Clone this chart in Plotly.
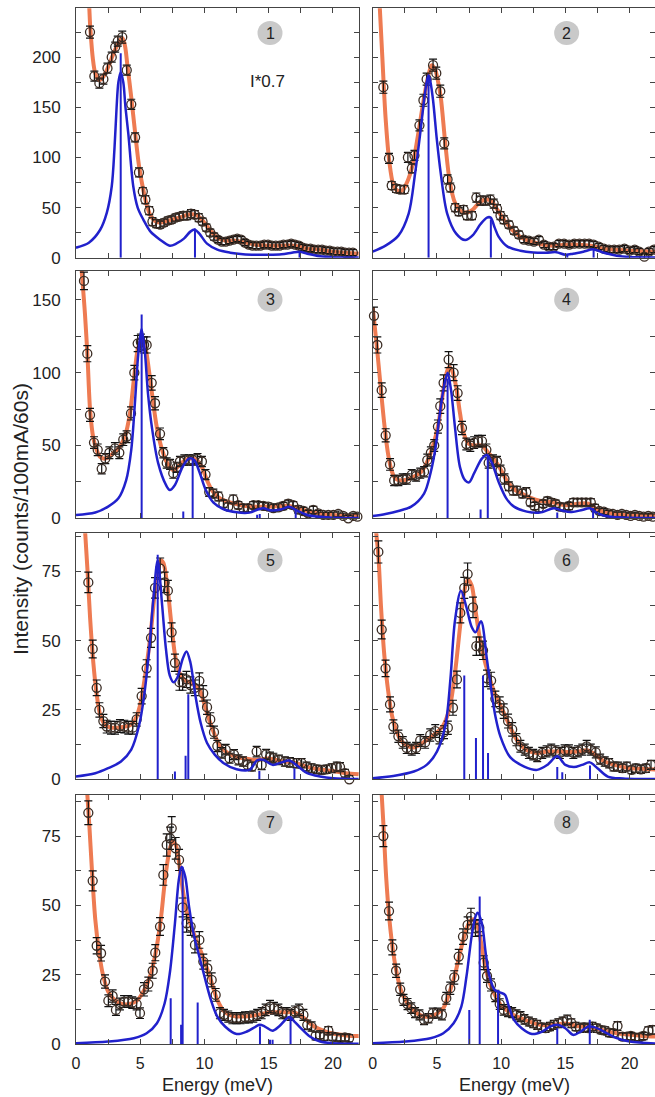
import plotly.graph_objects as go
from plotly.subplots import make_subplots

# ---------------- Panel 1 ----------------
x1 = [1.09,1.43,1.82,2.13,2.45,2.78,3.05,3.25,3.6,3.95,4.3,4.6,4.9,5.2,5.4,5.7,5.95,6.25,6.55,6.85,
      7.15,7.45,7.75,8.05,8.35,8.65,8.95,9.25,9.55,9.85,10.15,10.45,10.75,11.05,11.35,11.65,11.95,12.25,12.55,12.85,
      13.15,13.45,13.75,14.05,14.35,14.65,14.95,15.25,15.55,15.85,16.15,16.45,16.75,17.05,17.35,17.65,17.95,18.25,18.55,18.85,
      19.15,19.45,19.75,20.05,20.35,20.65,20.95,21.25,21.55]
y1 = [225,181,174,178,189,200,210,216,220,187,153,120,85,66,58,47,36,34,33,35,
      37,38,40,41,42,42,44,43,40,36,30,25,21,18,16,16,17,18,19,18,
      15,13,12,12,12,13,13,12,12,12,13,13,14,13,12,10,9,9,8,8,
      8,7,7,6,6,6,5,5,5]
e1 = [6,5,5,5,5,5,5,5,6,5,5,4.5,4.5,4,4,4,4,4,3.5,3.5,
      3.5,3.5,3.5,3.5,4,4,4,4,4,3.5,3.5,3.5,3.5,3,3,3,3,3,3,3,
      3,3,3,3,3,3,3,3,3,3,3,3,3,3,3,3,3,3,3,3,
      3,3,3,3,3,3,3,3,3]
fx1 = [0.9,1.0,1.1,1.3,1.5,1.8,2.1,2.5,2.9,3.3,3.6,3.8,4.0,4.3,4.6,4.9,5.2,5.5,5.8,6.2,6.6,
       7.2,8.0,8.8,9.3,9.8,10.4,11.0,11.6,12.4,13.2,14,15,16,17,18,19,20,21,22]
fy1 = [262,255,232,200,184,177,180,190,203,214,219,212,192,160,125,92,70,53,42,36,35,
       37,40,43,43,38,28,20,17,17,15,13,12,12,12,9,8,6,5,4]
bx1 = [0,1.0,1.87,2.4,2.78,3.0,3.16,3.3,3.48,3.68,3.85,4.07,4.46,4.8,5.24,5.8,6.54,7.3,
       7.8,8.4,8.9,9.25,9.6,10.2,11,12,13,14,15,16,16.8,17.4,18,19,20,22]
by1 = [10,15,27.6,45,71,110,150,175,185,175,150,124,71,50,38,26,18,12,
       14,19,26,28,24,14,8,5,3.5,3,3,3.5,5,6,4,1.5,0.5,0.2]
sx1 = [3.48,9.26,17.4]
sh1 = [204,29,5]

# ---------------- Panel 2 ----------------
x2 = [0.83,1.27,1.48,1.82,2.14,2.47,2.74,3.05,3.25,3.64,3.95,4.2,4.7,4.95,5.26,5.57,5.83,6.04,6.43,6.7,
      7.08,7.34,7.73,8.07,8.38,8.77,9.16,9.42,9.68,9.95,10.2,10.6,11.0,11.38,11.77,12.16,12.55,12.94,13.33,13.7,
      14.1,14.5,14.9,15.3,15.7,16.1,16.5,16.85,17.2,17.6,18.0,18.4,18.8,19.2,19.6,20.0,20.4,20.75,21.15,21.5,21.9]
y2 = [170,99,72,69,68,68,100,89,102,132,157,178,192,184,166,114,78,70,50,46,
      48,42,42,60,57,57,58,54,49,42,38,33,27,23,18,17,16,18,13,11,
      11,14,14,13,14,14,14,14,13,11,9,8,8,8,9,7,8,6,1,6,8]
e2 = [6,5,4,4,4,4,5,4.5,5,5.5,6,6,6,6,6,5.5,4.5,4.5,4,4,
      4,4,4,4.5,4.5,4.5,4.5,4.5,4,4,4,3.5,3.5,3.5,3,3,3,3,3,3,
      3,3,3,3,3,3,3,3,3,3,3,3,3,3,3,3,3,3,3,3,3]
fx2 = [0.55,0.75,1.0,1.3,1.6,1.9,2.3,2.7,3.1,3.5,3.9,4.3,4.6,4.85,5.05,5.3,5.65,6.0,6.4,6.8,
       7.3,7.8,8.3,8.8,9.2,9.6,10.0,10.5,11.0,11.6,12.4,13.2,14,15,16,17,18,19,20,21,22]
fy2 = [250,200,140,95,73,67,67,76,92,120,152,180,192,188,178,160,114,76,55,47,
       45,48,55,58,57,50,42,33,26,20,16,13,12,13,13,12,9,8,7,6.5,6]
bx2 = [0,1.0,2.0,2.8,3.3,3.7,4.0,4.2,4.35,4.5,4.7,5.0,5.3,5.8,6.5,7.2,7.8,8.4,8.9,9.18,
       9.5,9.8,10.5,11.5,12.5,13.5,14.3,15.0,15.6,16.4,17.2,18,19,20,22]
by2 = [6,12,22,44,84,124,157,175,182,175,157,117,84,44,24,17.6,22.6,33.6,40,40,
       30,21,11,7,5.3,5,5.5,3,4,6,8.3,5,2,0.7,0.3]
sx2 = [4.35,9.2,15.15,17.2]
sh2 = [181,38,3,8]

# ---------------- Panel 3 ----------------
x3 = [0.62,0.88,1.09,1.40,1.69,2.0,2.28,2.6,3.03,3.37,3.68,3.94,4.28,4.54,4.8,5.05,5.3,5.5,5.89,6.15,
      6.54,6.8,7.06,7.32,7.57,7.83,8.09,8.43,8.78,9.12,9.46,9.8,10.08,10.37,10.69,11.08,11.47,11.85,12.24,12.63,
      13.02,13.41,13.8,14.19,14.58,14.97,15.36,15.75,16.13,16.52,16.91,17.3,17.7,18.08,18.47,18.86,19.25,19.64,20.03,20.41,
      20.8,21.19,21.58,21.9]
y3 = [163,113,71,52,47,34,41,45,48,45,54,56,72,100,120,121,119,119,93,79,
      58,45,38,37,31,35,39,40,40,40,41,39,30,18,17,15,10,8,13,9,
      7,7,9,9,8.5,8,7,7.5,8.5,10,9,6,5,3.4,5.7,3.4,2.3,2.3,2.3,3,
      1.6,0,1.6,1.1]
e3 = [6,5.5,4.5,4,4,3.5,3.5,4,4,4,4,4,4.5,5,5.5,5.5,5.5,5.5,5,4.5,
      4,3.5,3.5,3.5,3.5,3.5,3.5,3.5,3.5,3.5,3.5,3.5,3.5,3,3,3,2.5,2.5,3,2.5,
      2.5,2.5,2.5,2.5,2.5,2.5,2.5,2.5,2.5,2.5,2.5,2.5,2.5,2,2.5,2,2,2,2,2,
      2,2,2,2]
fx3 = [0.44,0.7,0.9,1.1,1.35,1.6,1.9,2.3,2.8,3.3,3.8,4.2,4.5,4.8,5.0,5.2,5.4,5.7,6.0,6.3,
       6.7,7.1,7.6,8.0,8.5,9.0,9.4,9.8,10.2,10.6,11.0,11.6,12.4,13.2,14.0,15,16,16.6,17.2,18,
       19,20,21,22]
fy3 = [170,140,110,74,55,47,42,41,44,48,56,72,95,116,121,123,118,100,80,62,
       47,38,33,36,40,41,40,35,26,19,15,12,10,8.5,8,8,8.5,8.5,7,5,
       3,2.3,1.8,1.5]
bx3 = [0,1.5,2.5,3.3,3.9,4.3,4.6,4.85,5.1,5.35,5.6,5.9,6.4,7.0,7.3,7.7,8.3,8.8,9.2,9.6,
       10.1,10.7,11.5,12.5,13.5,14.2,14.6,15.2,16.0,16.6,17.2,18,19,20,22]
by3 = [2.3,4,8,13.7,26,47,81,113,130,115,86,63,37.7,22.9,19.4,22.9,35.4,41,40,32,
       19.4,10.7,6.2,4.1,3.9,6.2,6.9,5.3,6.2,8,5.3,2.3,1,0.4,0.2]
sx3 = [5.11,8.35,9.08,14.1,14.3,17.1]
sh3 = [140,4.6,40.5,2.5,3,5.7]

# ---------------- Panel 4 ----------------
x4 = [0.1,0.36,0.7,1.01,1.35,1.67,2.0,2.34,2.65,3.04,3.38,3.7,4.0,4.25,4.53,4.79,5.08,5.26,5.52,5.91,
      6.3,6.61,6.95,7.29,7.6,7.9,8.2,8.51,8.85,9.03,9.37,9.68,9.95,10.26,10.6,10.93,11.25,11.65,11.96,12.29,
      12.6,12.94,13.28,13.6,13.9,14.24,14.56,14.9,15.28,15.62,15.94,16.28,16.61,16.98,17.3,17.65,18.0,18.36,18.7,19.06,
      19.4,19.74,20.08,20.42,20.75,21.09,21.46,21.8]
y4 = [139,119,88,57,37,26,26,27,27,30,29,31,32,40,45,50,63,77,93,109,
      100,86,62,51,50,52,53,53,47,38,40,39,33,27,22,19,19,17,18,11,
      8.5,7,10,12,11,10,8,7.5,8.5,11,11,11,11,11,7,5,4.6,3.4,3,2.3,
      3,2.3,1.6,2.3,1.6,1.1,1.6,1.1]
e4 = [6,5.5,5,4.5,4,3.5,3.5,3.5,3.5,3.5,3.5,3.5,3.5,4,4,4,4.5,5,5.5,5.5,
      5.5,5,4.5,4,4,4,4,4,4,3.5,3.5,3.5,3.5,3.5,3,3,3,3,3,2.5,
      2.5,2.5,2.5,2.5,2.5,2.5,2.5,2.5,2.5,2.5,2.5,2.5,2.5,2.5,2.5,2,2,2,2,2,
      2,2,2,2,2,2,2,2]
fx4 = [0.0,0.3,0.6,0.9,1.2,1.5,1.8,2.3,2.8,3.3,3.8,4.3,4.7,5.1,5.4,5.7,5.95,6.2,6.5,6.8,
       7.1,7.5,8.0,8.5,9.0,9.5,10.0,10.5,11.0,11.6,12.3,13,14,15,16,16.8,17.5,18.5,19.5,20.5,22]
fy4 = [145,120,92,65,44,32,27,26,27,29,32,40,50,64,82,98,104,101,90,72,
       58,51,50,50,45,40,33,25,20,17,14,12,11,9,10,10,6,3.5,2.5,2,1.5]
bx4 = [0,1,2,3,4,4.5,4.9,5.2,5.5,5.83,6.1,6.4,6.8,7.2,7.5,7.9,8.5,8.9,9.3,9.8,
       10.4,11,12,13,14.1,14.6,15.5,16.3,16.9,17.5,18.5,20,22]
by4 = [1.6,3,5,8,17,31,49,70,88,100,88,63,35,26,24.7,31,41,43.4,37.7,25,
       13.7,8,4.6,3.9,6.9,5.7,4.3,5.7,6.9,3.4,1,0.3,0.2]
sx4 = [5.83,8.4,8.96,14.37,17.16]
sh4 = [96,6,43,4,7]

# ---------------- Panel 5 ----------------
x5 = [0.96,1.3,1.61,1.82,2.13,2.39,2.72,3.04,3.42,3.76,4.07,4.41,4.72,5.11,5.5,5.84,6.15,6.55,6.9,7.15,
      7.44,7.7,8.05,8.3,8.6,8.9,9.25,9.6,9.9,10.2,10.45,10.74,11.0,11.35,11.65,11.95,12.3,12.65,13.0,13.35,
      13.7,14.06,14.45,14.8,15.1,15.36,15.8,16.26,16.65,17.17,17.56,17.95,18.34,18.73,19.12,19.5,19.9,20.3,20.55,20.93,
      21.27]
y5 = [71,47,33,25,21,19,18.6,18.6,19.2,19,18.6,18.6,21.6,30,40,51,69,76,71,68,
      53,42,35,35,36,34,33,35.5,31,26,21.6,17,12,9.5,10.7,7.6,8.9,7,6.4,5.2,
      4.6,10,5.2,9,8,7.6,7,6.4,6.1,5.8,5.8,4.6,4,3.6,3.4,3.6,4,4.6,4.4,2.2,
      0]
e5 = [3.7,3.2,2.8,2.6,2.4,2.3,2.3,2.3,2.3,2.3,2.3,2.3,2.4,2.8,3.1,3.4,3.7,3.8,3.7,3.7,
      3.4,3.1,2.9,2.9,2.9,2.9,2.8,2.9,2.8,2.6,2.4,2.2,2,1.9,1.9,1.8,1.8,1.8,1.7,1.7,
      1.6,1.9,1.7,1.8,1.8,1.8,1.7,1.7,1.7,1.7,1.7,1.6,1.6,1.5,1.5,1.5,1.6,1.6,1.6,1.4,
      1.3]
fx5 = [0.7,0.9,1.1,1.35,1.6,1.9,2.3,2.8,3.5,4.2,4.6,5.0,5.4,5.8,6.1,6.4,6.6,6.8,7.1,7.4,
       7.7,8.0,8.4,8.8,9.2,9.6,10.0,10.4,10.8,11.2,11.8,12.5,13.2,14,15,16,17,18,19,20,21,22]
fy5 = [90,75,58,42,31,23,19.5,18.6,18.8,19.5,21.5,27,38,52,66,76,79,78,70,57,
       45,39,36,35,34,32.5,27,21,16,12,9.5,8,7.5,7,7.5,6.5,6,4.5,3.5,3,2.2,1.8]
bx5 = [0,1.5,2.5,3.5,4.3,4.9,5.3,5.7,6.0,6.36,6.7,7.0,7.3,7.6,7.9,8.3,8.6,8.9,9.3,9.7,
       10.2,10.8,11.5,12.5,13.5,14.1,14.6,15.3,16.0,16.6,17.3,18,19,20,22]
by5 = [1,2.2,4,6.4,10.7,19.2,30,47,64,79,63,47,37.4,35,36.8,43.4,46.1,42.2,30,20.4,
       13.1,8.9,5.8,3.6,3.4,6.8,7,5.2,6.1,6.8,4.6,2.2,1,0.4,0.1]
sx5 = [6.36,7.7,8.53,8.74,14.27,17.0]
sh5 = [81,2.8,8.5,30.7,3,4]

# ---------------- Panel 6 ----------------
x6 = [0.44,0.7,1.0,1.35,1.61,2.0,2.34,2.65,3.04,3.38,3.7,4.08,4.48,4.87,5.2,5.55,5.85,6.25,6.56,6.82,
      7.13,7.39,7.81,8.07,8.33,8.59,8.9,9.22,9.55,9.89,10.2,10.54,10.86,11.19,11.5,11.84,12.16,12.5,12.81,13.2,
      13.54,13.9,14.24,14.58,14.94,15.28,15.62,15.98,16.32,16.66,16.98,17.37,17.71,18.07,18.41,18.75,19.11,19.45,19.79,20.15,
      20.49,20.88,21.27,21.67]
y6 = [82,54,40,27,19,15.5,13.3,11.3,10.7,11.3,14,13.3,16,17.4,15,17,18.6,25.8,36,60,
      69,74,62,48,48,46.5,36.4,35.6,29,27,24.6,21,18,14.3,11.9,10.7,9.5,8.9,8.3,9.5,
      10.1,10.7,10.1,9.5,10.4,10.4,9.5,10.1,10.7,11.9,10.7,9.7,7.3,6.4,5.8,4.6,4.6,4,4.6,3.4,
      4,3.6,4,5.2]
e6 = [4,3.4,3,2.7,2.4,2.2,2.1,2,2,2,2.1,2.1,2.2,2.3,2.2,2.3,2.4,2.7,3,3.6,
      3.8,4,3.7,3.3,3.3,3.3,3,3,2.8,2.7,2.6,2.5,2.4,2.2,2.1,2,2,1.9,1.9,2,
      2,2,2,2,2,2,2,2,2,2.1,2,2,1.8,1.7,1.7,1.6,1.6,1.5,1.6,1.4,
      1.5,1.5,1.5,1.6]
fx6 = [0.25,0.45,0.65,0.9,1.2,1.5,1.8,2.2,2.7,3.2,3.7,4.3,4.9,5.5,6.0,6.4,6.8,7.1,7.4,7.7,
       8.0,8.3,8.6,9.0,9.5,10.0,10.5,11.0,11.5,12.0,12.8,13.6,14.5,15.3,16,16.7,17.3,18,19,20,21,22]
fy6 = [90,80,62,45,32,23,18,14,12,11.5,12.5,14.5,16.5,19.5,26,38,55,67,72,70,
       61,52,45,38,31,26,21,16,12.5,10.5,9.5,10,10,9.8,10,10.5,9,6.5,5,4,3.8,3.5]
bx6 = [0,1.6,3.2,4.2,5.0,5.65,6.05,6.4,6.87,7.3,7.7,8.0,8.43,8.9,9.22,9.55,9.94,10.7,11.8,12.8,
       13.6,14.37,15.0,15.67,16.3,16.9,17.5,18.3,19.5,22]
by6 = [0.4,1.2,2.8,5.2,10,19.2,36,57,68,62,55,53,57,43,32.5,22.8,15.5,8,4.6,3.4,
       5.2,8.3,5.2,4.4,5.2,6.1,4,1,0.3,0.1]
sx6 = [7.13,8.04,8.59,8.98,14.37,14.76,16.92]
sh6 = [37.4,14.9,37.4,9.5,4.4,2.5,5]

# ---------------- Panel 7 ----------------
x7 = [0.96,1.3,1.61,1.95,2.26,2.52,2.85,3.11,3.42,3.74,4.07,4.38,4.72,4.98,5.29,5.63,5.97,6.17,6.54,6.8,
      7.06,7.32,7.45,7.76,8.02,8.3,8.61,8.92,9.26,9.6,9.91,10.22,10.56,10.87,11.2,11.52,11.85,12.17,12.5,12.81,
      13.15,13.46,13.8,14.1,14.45,14.76,15.1,15.41,15.75,16.06,16.4,16.7,17.04,17.35,17.7,18.0,18.34,18.65,18.99,19.3,
      19.64,19.95,20.29,20.6,20.93,21.25]
y7 = [83.4,58.9,35.5,32.8,22.6,15.7,17.4,12.4,14.5,15.4,15.4,15,14.5,11.2,19.8,21.7,26.5,33,42.4,61,
      71.8,74.2,77.8,70.6,66.4,49.3,43.6,42.4,35.8,37.6,29.8,27.4,23.2,17.8,11.2,10.6,10,9.4,9.4,9.4,
      9.7,9.7,10,10.6,11.2,12.4,13.6,13,12.4,11.2,11.2,10.6,11.8,12.4,10.6,7,6.4,3,3.4,2.8,
      4.9,2.8,2.5,2.2,2.5,2.2]
e7 = [4.3,3.6,2.9,2.8,2.4,2.1,2.2,2,2.1,2.1,2.1,2.1,2.1,1.9,2.4,2.5,2.7,2.9,3.2,3.7,
      4,4,4.2,3.9,3.8,3.4,3.2,3.2,2.9,3,2.7,2.7,2.5,2.3,2,2,2,2,2,2,
      2,2,2,2,2,2.1,2.2,2.1,2.1,2,2,2,2,2.1,2,1.7,1.7,1.4,1.4,1.4,
      1.5,1.4,1.3,1.3,1.3,1.3]
fx7 = [0.88,1.05,1.25,1.5,1.8,2.1,2.5,3.0,3.6,4.2,4.8,5.3,5.8,6.2,6.6,6.9,7.2,7.5,7.75,8.0,
       8.3,8.6,9.0,9.5,10.0,10.5,11.0,11.5,12.0,13,14,15,16,17,17.6,18.5,19.5,20.5,21.5,22]
fy7 = [90,78,62,45,33,25,19,16,14.5,14.5,16,19.5,25,33,45,58,68,73,72,66,
       56,48,42,36,30,23,16,12,10.5,10,10.5,11.5,11.5,11.5,10,6.5,4.5,3.5,3,3]
bx7 = [0,2.5,4.5,5.5,6.3,6.9,7.3,7.7,8.0,8.22,8.5,8.8,9.2,9.6,10.0,10.5,11.0,11.6,12.5,13.3,
       14.0,14.3,14.7,15.3,15.8,16.6,17.0,17.5,18.2,19,20,22]
by7 = [0.4,1,2.2,4,7.6,14.8,25.6,43.6,59.2,64,60.4,49.6,38.8,31.6,24.4,16,10,6.4,3.7,4.6,
       6.4,7,6.4,4.9,6.4,9.8,8.2,5.8,2.8,1,0.4,0.2]
sx7 = [7.37,8.18,8.3,9.47,14.32,15.1,15.3,16.7]
sh7 = [16.6,7,64,15.1,6.4,1.6,1.6,10]

# ---------------- Panel 8 ----------------
x8 = [0.83,1.27,1.53,1.82,2.14,2.4,2.71,3.0,3.3,3.64,4.0,4.34,4.68,5.05,5.39,5.73,6.04,6.35,6.7,7.03,
      7.39,7.65,8.0,8.3,8.64,8.9,9.21,9.55,9.89,10.2,10.54,10.86,11.2,11.51,11.82,12.16,12.5,12.81,13.15,13.46,
      13.8,14.1,14.45,14.79,15.15,15.47,15.8,16.14,16.46,16.8,17.11,17.45,17.76,18.1,18.41,18.75,19.06,19.45,19.79,20.1,
      20.42,20.75,21.09,21.46,21.8]
y8 = [75,48,34.9,26.5,19.8,16,14.5,13,11.4,10.6,8.8,9.4,11.2,11.2,10.6,16.6,20.2,24.1,31.6,38.8,
      43,46,41.8,42,29.4,24.6,21.4,17.4,14.5,12.4,11.8,11.4,10.6,10,9,8.2,7.6,7,6.1,5.8,
      6.4,7,7.6,8.2,8.8,7.6,6.4,5.8,6.1,5.8,6.4,5.8,5.2,4.9,4.2,4,6.6,2.8,2.8,3,
      2.5,2.5,3,4.9,5.2]
e8 = [3.8,3.2,2.7,2.4,2.2,2,2,1.9,1.8,1.8,1.7,1.7,1.8,1.8,1.8,2.1,2.2,2.4,2.6,2.8,
      2.9,3,2.9,2.9,2.5,2.3,2.2,2,1.9,1.9,1.8,1.8,1.8,1.8,1.7,1.6,1.6,1.6,1.5,1.5,
      1.5,1.6,1.6,1.6,1.7,1.6,1.5,1.5,1.5,1.5,1.5,1.5,1.4,1.4,1.4,1.4,1.6,1.3,1.3,1.3,
      1.3,1.3,1.3,1.4,1.5]
fx8 = [0.7,0.85,1.05,1.3,1.6,1.9,2.2,2.6,3.0,3.5,4.0,4.5,5.0,5.5,6.0,6.4,6.8,7.2,7.6,7.9,
       8.2,8.5,8.8,9.2,9.6,10,10.5,11,11.5,12,13,14,15,16,17,18,19,20,21,22]
fy8 = [90,78,60,45,33,25,19.5,15.5,13,11,10,10,11,13,19,25,33,40,44.5,45,
       42,35,27,21,17,14,12,10.5,9.5,8.5,7,7,7.5,6.5,6,5,4,3.5,3,2.8]
bx8 = [0,2.5,4.5,5.5,6.3,6.9,7.3,7.7,8.0,8.17,8.5,8.8,9.1,9.5,9.9,10.3,10.6,11,11.6,12.4,
       13.2,13.8,14.4,15.0,15.6,16.2,16.8,17.3,18,19,20,22]
by8 = [0.4,1,2.2,4,7.6,13.6,24.4,38.8,46,47.4,43.6,32.8,24.4,19.6,18.7,17.8,13.6,8.8,5.8,3.7,
       4.6,6.4,7,5.8,3.4,4.6,6.4,6.1,4.6,2.2,1,0.3]
sx8 = [7.52,8.33,9.76,14.37,16.9]
sh8 = [12.4,53.2,19.6,5.8,8.8]

panel_labels = ["1", "2", "3", "4", "5", "6", "7", "8"]
x_ticks = [0, 5, 10, 15, 20]

panels = [
    (x1, y1, e1, fx1, fy1, bx1, by1, sx1, sh1),
    (x2, y2, e2, fx2, fy2, bx2, by2, sx2, sh2),
    (x3, y3, e3, fx3, fy3, bx3, by3, sx3, sh3),
    (x4, y4, e4, fx4, fy4, bx4, by4, sx4, sh4),
    (x5, y5, e5, fx5, fy5, bx5, by5, sx5, sh5),
    (x6, y6, e6, fx6, fy6, bx6, by6, sx6, sh6),
    (x7, y7, e7, fx7, fy7, bx7, by7, sx7, sh7),
    (x8, y8, e8, fx8, fy8, bx8, by8, sx8, sh8),
]

W, H = 655, 1097
ORANGE = "#EE7B52"
BLUE = "#2121CC"
AX = "#444444"
TXT = "#222222"
FONT = "Liberation Sans, Arial, sans-serif"

fig = make_subplots(rows=4, cols=2)

for i, (px, py, pe, fxx, fyy, bxx, byy, sxx, shh) in enumerate(panels):
    r, c = i // 2 + 1, i % 2 + 1
    fig.add_trace(go.Scatter(x=fxx, y=fyy, mode="lines", line=dict(color=ORANGE, width=4, shape="spline", smoothing=0.9),
                             hoverinfo="skip"), row=r, col=c)
    fig.add_trace(go.Scatter(x=px, y=py, mode="markers", cliponaxis=False,
                             marker=dict(symbol="circle-open", size=9, color="#3a2c24", line=dict(width=1.3)),
                             error_y=dict(type="data", array=pe, color="#111111", thickness=1.2, width=4)),
                  row=r, col=c)
    fig.add_trace(go.Scatter(x=bxx, y=byy, mode="lines", line=dict(color=BLUE, width=2.5, shape="spline", smoothing=0.9),
                             hoverinfo="skip"), row=r, col=c)
    stx, sty = [], []
    for s, h in zip(sxx, shh):
        stx += [s, s, None]
        sty += [0, h, None]
    fig.add_trace(go.Scatter(x=stx, y=sty, mode="lines", line=dict(color=BLUE, width=2)), row=r, col=c)

# geometry (pixels)
col_px = [(76.0, 359.3), (372.7, 655.0)]
row_px = [(8.3, 257.7), (270.7, 518.3), (533.3, 779.3), (795.0, 1044.3)]
y_top = [248.7, 170.0, 88.7, 89.8]
y_dt = [50, 50, 25, 25]
badge_y = [224, 150, 79, 80]

layout = {}
shapes = []
annotations = []
for i in range(8):
    r, c = i // 2, i % 2
    xn = "xaxis" if i == 0 else f"xaxis{i+1}"
    yn = "yaxis" if i == 0 else f"yaxis{i+1}"
    xr = "x" if i == 0 else f"x{i+1}"
    yr = "y" if i == 0 else f"y{i+1}"
    x0p, x1p = col_px[c]
    y0p, y1p = row_px[r]
    layout[xn] = dict(
        domain=[x0p / W, x1p / W], range=[0, 22.05 if c == 0 else 21.98], automargin=False,
        tickvals=x_ticks, ticktext=[str(t) for t in x_ticks],
        showticklabels=(r == 3), ticks="inside", ticklen=5, tickwidth=1, tickcolor=AX,
        minor=dict(ticks="inside", ticklen=5, tickwidth=1, tickcolor=AX, dtick=2.5, tick0=0),
        showline=True, linecolor=AX, linewidth=1, mirror="ticks",
        showgrid=False, zeroline=False, ticklabelstandoff=4,
        tickfont=dict(family=FONT, size=16, color=TXT),
    )
    layout[yn] = dict(
        domain=[1 - y1p / H, 1 - y0p / H], range=[0, y_top[r]], automargin=False,
        dtick=y_dt[r], tick0=0,
        showticklabels=(c == 0), ticks="inside", ticklen=5, tickwidth=1, tickcolor=AX,
        minor=dict(ticks="inside", ticklen=5, tickwidth=1, tickcolor=AX, dtick=y_dt[r] / 2, tick0=0),
        showline=True, linecolor=AX, linewidth=1, mirror="ticks",
        showgrid=False, zeroline=False, ticklabelstandoff=11,
        tickfont=dict(family=FONT, size=17, color=TXT),
    )
    shapes.append(dict(type="circle", xref=xr, yref=yr, xsizemode="pixel", ysizemode="pixel",
                       xanchor=15.1, yanchor=badge_y[r], x0=-12.5, x1=12.5, y0=-12, y1=12,
                       fillcolor="#C9C9C9", line=dict(width=0), layer="above"))
    annotations.append(dict(xref=xr, yref=yr, x=15.1, y=badge_y[r], text=panel_labels[i], showarrow=False,
                            font=dict(family=FONT, size=16, color=TXT), xanchor="center", yanchor="middle"))

annotations.append(dict(xref="x", yref="y", x=14.9, y=176, text="I*0.7", showarrow=False,
                        font=dict(family=FONT, size=17, color=TXT), xanchor="center", yanchor="middle"))
for cx in (217.5, 514):
    annotations.append(dict(xref="paper", yref="paper", x=cx / W, y=1 - 1085 / H, text="Energy (meV)",
                            showarrow=False, font=dict(family=FONT, size=18, color=TXT),
                            xanchor="center", yanchor="middle"))
annotations.append(dict(xref="paper", yref="paper", x=20 / W, y=1 - 519 / H, text="Intensity (counts/100mA/60s)",
                        showarrow=False, textangle=-90, font=dict(family=FONT, size=21, color=TXT),
                        xanchor="center", yanchor="middle"))

fig.update_layout(width=W, height=H, margin=dict(l=0, r=0, t=0, b=0, autoexpand=False),
                  paper_bgcolor="white", plot_bgcolor="white", showlegend=False,
                  shapes=shapes, annotations=annotations, **layout)

fig.write_html("out.html", config={"displayModeBar": False, "staticPlot": True},
               post_script="document.body.style.margin='0';document.body.style.padding='0';"
                           "document.body.style.overflow='hidden';")
